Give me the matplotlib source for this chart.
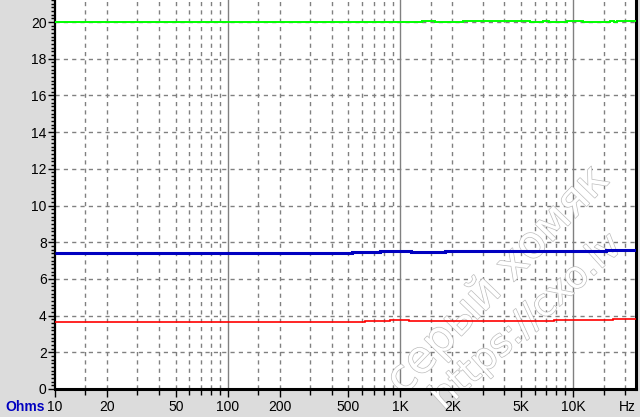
import matplotlib

matplotlib.use("Agg")
import matplotlib.pyplot as plt
import matplotlib.patheffects as pe
from matplotlib.ticker import FixedLocator, MultipleLocator, NullFormatter

# step traces: edges (Hz) and level (ohms) between edges
GREEN_EDGES = [10, 1334, 1585, 2296, 5620, 6668, 7250, 9190, 11380, 16370, 17250, 17900, 23100]
GREEN_VALS = [20.0, 20.05, 20.0, 20.03, 20.0, 20.05, 20.0, 20.05, 20.0, 20.05, 20.0, 20.05]
BLUE_EDGES = [10, 522, 762, 1150, 1811, 15500, 23100]
BLUE_VALS = [7.42, 7.47, 7.54, 7.46, 7.54, 7.60]
RED_EDGES = [10, 624, 871, 1122, 7700, 17000, 23100]
RED_VALS = [3.65, 3.69, 3.75, 3.69, 3.76, 3.81]

XLABELS = ["10", "20", "50", "100", "200", "500", "1K", "2K", "5K", "10K"]
XLABEL_POS = [10, 20, 50, 100, 200, 500, 1000, 2000, 5000, 10000]
DECADES = [100, 1000, 10000]
MINOR_GRID = [15, 20, 30, 40, 50, 60, 70, 80, 90,
              150, 200, 300, 400, 500, 600, 700, 800, 900,
              1500, 2000, 3000, 4000, 5000, 6000, 7000, 8000, 9000,
              15000, 20000]
YTICKS = list(range(0, 21, 2))

fig = plt.figure(figsize=(6.4, 4.17), dpi=100, facecolor="#dcdcdc")
ax = fig.add_axes([55 / 640, 1 - 389 / 417, 581 / 640, 389 / 417])
ax.set_facecolor("white")
ax.set_xscale("log")
ax.set_xlim(10, 23100)
ax.set_ylim(0, 21.2)

for f in MINOR_GRID:
    ax.axvline(f, color="#808080", lw=1.0, ls=(0, (3, 3)), zorder=1)
for f in DECADES:
    ax.axvline(f, color="#808080", lw=1.0, zorder=1)
for y in YTICKS[1:]:
    ax.axhline(y, color="#808080", lw=1.0, ls=(0, (3, 3)), zorder=1)

ax.stairs(GREEN_VALS, GREEN_EDGES, baseline=None, color="#00ff00", lw=1.4, zorder=3)
ax.stairs(BLUE_VALS, BLUE_EDGES, baseline=None, color="#0000c0", lw=2.2, zorder=3)
ax.stairs(RED_VALS, RED_EDGES, baseline=None, color="#ff0000", lw=1.2, zorder=3)

ax.spines["top"].set_visible(False)
ax.spines["left"].set_linewidth(1.6)
ax.spines["bottom"].set_linewidth(2.2)
ax.spines["right"].set_linewidth(2.2)

ax.yaxis.set_major_locator(FixedLocator(YTICKS))
ax.yaxis.set_minor_locator(MultipleLocator(0.2))
ax.tick_params(axis="y", which="major", length=5, width=1, labelsize=10, pad=1)
ax.tick_params(axis="y", which="minor", length=3, width=1)
ax.xaxis.set_major_locator(FixedLocator(XLABEL_POS))
ax.xaxis.set_minor_locator(FixedLocator([f for f in MINOR_GRID if f not in XLABEL_POS]))
ax.xaxis.set_minor_formatter(NullFormatter())
ax.set_xticklabels(XLABELS)
ax.tick_params(axis="x", which="major", length=6, width=1, labelsize=10, pad=2)
ax.tick_params(axis="x", which="minor", length=4, width=1)
for lab in ax.get_xticklabels() + ax.get_yticklabels():
    lab.set_family("Liberation Sans")

fig.text(25 / 640, 1 - 407 / 417, "Ohms", color="#0000c0", fontsize=10, fontweight="bold",
         family="Liberation Sans", ha="center", va="center")
fig.text(627 / 640, 1 - 407 / 417, "Hz", color="black", fontsize=10,
         family="Liberation Sans", ha="center", va="center")

# watermark, above the grid but under the traces
wm = [pe.withStroke(linewidth=1.0, foreground="#bcbcbc")]
ax.text(498 / 640, 1 - 280 / 417, "серый хомяк", fontsize=32, color="white", rotation=46,
        ha="center", va="center", path_effects=wm, zorder=2, clip_on=False,
        transform=fig.transFigure)
ax.text(527 / 640, 1 - 322 / 417, "https://cxo.lv", fontsize=27, color="white", rotation=42,
        ha="center", va="center", path_effects=wm, zorder=2, clip_on=False,
        transform=fig.transFigure)

fig.savefig("out.png", dpi=100, facecolor=fig.get_facecolor())
